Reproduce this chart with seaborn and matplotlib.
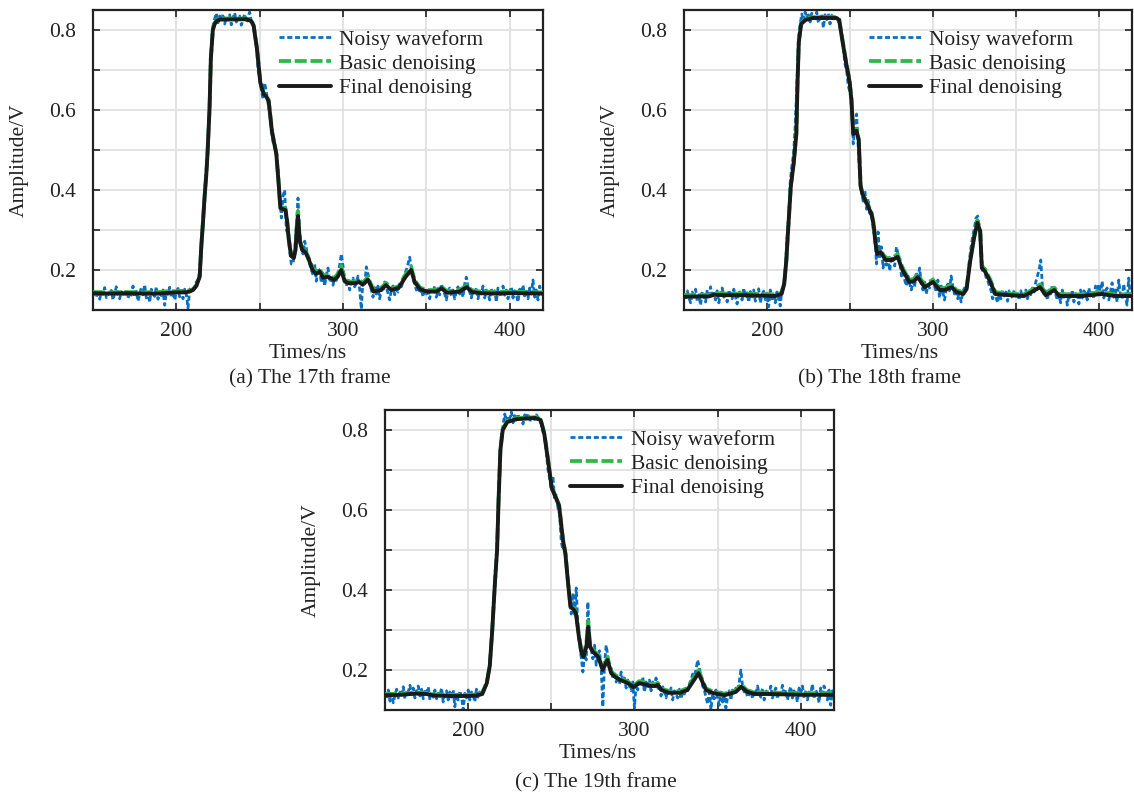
import numpy as np
import pandas as pd
import matplotlib
matplotlib.use("Agg")
import matplotlib.pyplot as plt
import seaborn as sns
from matplotlib.ticker import FixedLocator, FuncFormatter

# ---------------- data (mV values, ns times) ----------------
noisy_start = 150  # first sample time of noisy record, 1 ns sampling

noisy_a = [148, 138, 132, 150, 127, 145, 139, 156, 131, 143,
           135, 149, 125, 142, 158, 137, 128, 146, 140, 133,
           151, 129, 144, 137, 160, 132, 147, 122, 141, 155,
           138, 163, 130, 145, 119, 152, 140, 134, 158, 127,
           143, 136, 150, 112, 146, 139, 157, 131, 148, 125,
           144, 154, 133, 147, 128, 152, 139, 105, 150, 158,
           153, 158, 170, 175, 195, 262, 318, 392, 445, 515,
           640, 760, 810, 828, 842, 818, 835, 822, 840, 815,
           832, 825, 838, 813, 830, 843, 820, 828, 835, 812,
           826, 840, 818, 832, 845, 820, 815, 790, 765, 700,
           680, 650, 628, 668, 645, 618, 595, 555, 520, 510,
           490, 455, 390, 330, 385, 400, 300, 290, 245, 215,
           215, 245, 310, 380, 290, 265, 240, 272, 255, 228,
           215, 200, 188, 214, 172, 205, 198, 168, 192, 160,
           188, 205, 170, 186, 162, 180, 174, 192, 212, 240,
           210, 175, 160, 178, 150, 172, 180, 158, 166, 185,
           152, 102, 178, 160, 208, 190, 170, 150, 132, 156,
           140, 160, 128, 152, 145, 170, 158, 142, 125, 150,
           160, 138, 152, 145, 165, 158, 172, 190, 200, 215,
           232, 205, 178, 165, 150, 160, 142, 155, 133, 148,
           140, 155, 128, 150, 143, 160, 132, 147, 138, 165,
           152, 140, 125, 148, 155, 135, 150, 128, 145, 158,
           140, 150, 132, 165, 182, 158, 145, 130, 150, 138,
           155, 128, 147, 140, 160, 130, 150, 142, 125, 153,
           138, 148, 120, 155, 142, 133, 160, 137, 150, 128,
           145, 158, 130, 148, 138, 120, 152, 143, 162, 135,
           147, 128, 155, 140, 175, 132, 150, 125, 160, 142,
           138]

t_a = [150, 160, 170, 180, 190, 195, 200, 205, 208, 210,
       212, 214, 215, 216, 217, 218, 218.7, 219.9, 220.7, 221.9,
       223, 224.3, 226, 242, 245, 246.4, 248.4, 250.4, 252.4, 254,
       255.4, 257.4, 260, 261.4, 262.4, 264, 265.5, 266.5, 267.5, 268.9,
       270.5, 271.5, 272.3, 273, 273.6, 274.2, 275.5, 277.4, 279.6, 281.7,
       283.9, 286, 288.2, 290.3, 292.5, 294.6, 296.8, 298.9, 301, 303.2,
       307.5, 309.7, 311.8, 315, 318.3, 322.6, 325.8, 329, 333.3, 337.6,
       340.9, 343, 346.2, 350.5, 355.9, 359.1, 362.4, 369.9, 374.2, 377.4,
       382.8, 390, 400, 410, 420]
final_a = [142, 141, 142, 141, 141, 143, 144, 144, 146, 150,
           160, 183, 260, 320, 385, 440, 490, 600, 727, 800,
           815, 823, 826, 827, 822, 810, 752, 668, 640, 633,
           622, 545, 490, 415, 355, 352, 350, 320, 275, 235,
           230, 250, 300, 335, 300, 270, 250, 245, 225, 200,
           190, 196, 180, 183, 180, 175, 183, 200, 172, 167,
           167, 170, 163, 176, 146, 150, 162, 150, 155, 183,
           200, 170, 152, 146, 146, 154, 143, 146, 157, 145,
           142, 141, 142, 142, 141]
basic_a = [145, 144, 145, 144, 145, 147, 147, 148, 149, 152,
           162, 185, 262, 322, 387, 442, 492, 602, 729, 802,
           818, 826, 829, 829, 824, 812, 754, 670, 643, 636,
           625, 547, 492, 417, 358, 356, 354, 323, 278, 238,
           233, 256, 315, 348, 305, 274, 254, 249, 229, 205,
           196, 203, 185, 188, 184, 180, 190, 210, 177, 171,
           171, 175, 168, 183, 150, 154, 168, 154, 159, 190,
           208, 175, 156, 150, 150, 159, 147, 150, 162, 149,
           146, 145, 146, 145, 144]

noisy_b = [140, 125, 148, 130, 118, 145, 128, 152, 122, 138,
           112, 146, 135, 120, 150, 128, 158, 130, 142, 125,
           148, 118, 140, 155, 132, 145, 120, 150, 138, 128,
           152, 135, 115, 148, 140, 125, 155, 132, 143, 120,
           146, 130, 150, 122, 140, 153, 118, 138, 147, 126,
           142, 108, 150, 128, 137, 118, 145, 130, 110, 152,
           160, 200, 275, 330, 420, 460, 490, 560, 660, 780,
           815, 840, 822, 845, 830, 838, 820, 842, 835, 828,
           845, 818, 832, 840, 805, 838, 826, 842, 815, 836,
           840, 828, 835, 822, 810, 790, 755, 715, 700, 660,
           645, 610, 515, 560, 590, 505, 425, 395, 372, 398,
           352, 378, 335, 345, 300, 285, 215, 295, 228, 258,
           205, 240, 212, 230, 198, 235, 220, 210, 258, 240,
           225, 185, 205, 175, 160, 185, 165, 150, 172, 158,
           195, 175, 205, 165, 150, 170, 140, 162, 155, 180,
           178, 160, 145, 175, 130, 160, 145, 125, 150, 165,
           148, 185, 160, 140, 150, 128, 148, 120, 145, 155,
           150, 185, 225, 258, 285, 305, 330, 335, 305, 240,
           195, 205, 182, 175, 160, 150, 128, 145, 132, 118,
           140, 128, 150, 135, 145, 122, 148, 138, 130, 150,
           135, 142, 125, 148, 130, 140, 150, 128, 145, 138,
           155, 145, 170, 185, 200, 225, 160, 135, 148, 125,
           150, 140, 162, 155, 140, 125, 138, 118, 150, 132,
           145, 112, 140, 128, 150, 120, 138, 145, 115, 150,
           130, 148, 142, 125, 155, 135, 148, 128, 160, 140,
           165, 138, 172, 130, 148, 155, 125, 145, 168, 132,
           150, 120, 175, 140, 128, 165, 135, 112, 180, 130,
           140]

t_b = [150, 160, 165, 168, 175, 185, 195, 205, 208.8, 210.4,
       211.7, 212.6, 214.4, 216.2, 217.7, 218.4, 219.2, 220.6, 223.2, 227.7,
       242, 243.5, 245.4, 247.6, 249.8, 250.9, 252, 253.1, 254, 255.3,
       256.4, 257.5, 258.6, 260.8, 263, 264.4, 265.3, 266.4, 268.5, 271.5,
       275.6, 278.7, 281.7, 285.8, 288.5, 290.9, 295, 300, 304, 307,
       311.2, 314.2, 318.3, 320.3, 322.4, 324.8, 326.8, 328.5, 329.5, 331.5,
       334.6, 337.6, 342.7, 354.9, 359, 364.6, 368, 373.2, 376.2, 390,
       401.6, 410, 420]
final_b = [133, 134, 134, 138, 137, 137, 136, 135, 140, 165,
           225, 290, 410, 470, 540, 665, 770, 815, 825, 830,
           830, 825, 775, 720, 670, 625, 540, 545, 548, 525,
           410, 390, 380, 360, 340, 310, 270, 240, 245, 225,
           225, 233, 200, 170, 172, 182, 157, 170, 150, 150,
           157, 145, 140, 152, 220, 280, 318, 297, 205, 196,
           170, 140, 138, 135, 144, 157, 137, 150, 135, 135,
           140, 135, 135]
basic_b = [137, 138, 138, 142, 141, 141, 140, 139, 143, 167,
           227, 292, 412, 472, 542, 667, 772, 818, 828, 832,
           832, 827, 778, 723, 673, 628, 543, 549, 552, 528,
           413, 393, 384, 364, 344, 314, 274, 245, 250, 230,
           230, 240, 206, 175, 178, 190, 162, 176, 154, 155,
           163, 150, 144, 156, 224, 285, 325, 303, 210, 202,
           176, 145, 142, 139, 149, 164, 142, 156, 140, 139,
           145, 139, 139]

noisy_c = [145, 128, 150, 122, 140, 118, 138, 152, 130, 145,
           135, 158, 128, 150, 145, 162, 138, 155, 130, 148,
           160, 135, 152, 128, 147, 140, 158, 125, 145, 132,
           150, 128, 142, 135, 155, 120, 140, 148, 125, 145,
           132, 150, 108, 140, 125, 148, 135, 100, 142, 130,
           150, 125, 145, 138, 120, 152, 132, 145, 138, 150,
           155, 163, 190, 215, 262, 345, 410, 480, 590, 715,
           790, 812, 840, 822, 835, 828, 845, 818, 836, 825,
           840, 822, 832, 815, 838, 828, 842, 820, 835, 830,
           826, 838, 832, 822, 815, 795, 780, 745, 700, 680,
           650, 685, 625, 640, 605, 590, 520, 500, 510, 460,
           430, 375, 340, 392, 335, 405, 310, 265, 232, 195,
           240, 225, 370, 275, 252, 228, 262, 212, 238, 248,
           205, 108, 215, 262, 235, 198, 205, 178, 196, 170,
           185, 165, 195, 172, 180, 155, 175, 160, 148, 170,
           105, 165, 150, 178, 160, 182, 145, 170, 155, 175,
           148, 170, 158, 180, 150, 165, 135, 158, 145, 130,
           150, 138, 155, 125, 148, 140, 130, 152, 128, 145,
           140, 155, 148, 165, 175, 190, 185, 200, 225, 205,
           185, 160, 150, 132, 115, 145, 100, 140, 128, 150,
           130, 112, 145, 120, 140, 105, 132, 148, 125, 150,
           140, 155, 148, 170, 200, 160, 145, 150, 132, 140,
           148, 128, 150, 135, 160, 140, 132, 155, 125, 145,
           150, 138, 160, 130, 145, 155, 128, 148, 140, 162,
           135, 150, 125, 145, 158, 130, 148, 140, 120, 155,
           142, 160, 130, 150, 125, 145, 138, 165, 128, 150,
           140, 118, 155, 132, 160, 145, 125, 150, 112, 148,
           138]

t_c = [150, 160, 168, 175, 180, 190, 200, 205, 208.5, 211.2,
       213, 214.5, 216.1, 217.4, 218.3, 219.4, 220.8, 223.5, 229, 240.2,
       243.6, 245.8, 248, 250.3, 252.5, 254.7, 257, 258.5, 259.9, 261.5,
       263.7, 264.8, 266.6, 268.2, 269.3, 271.1, 272.2, 273.3, 274.9, 278.2,
       280.9, 283.8, 286, 288.3, 291.6, 296.1, 299.4, 302.8, 307.3, 309.5,
       312.8, 314, 316.2, 320.7, 327.4, 331.8, 335.2, 338.5, 340.8, 343,
       347.5, 354.2, 360.9, 364.2, 367.6, 372, 381, 400, 420]
final_c = [137, 138, 141, 140, 136, 135, 135, 136, 140, 167,
           210, 300, 417, 500, 625, 750, 800, 820, 827, 830,
           825, 790, 725, 654, 633, 610, 525, 490, 425, 358,
           350, 342, 283, 242, 233, 258, 308, 258, 246, 233,
           200, 225, 192, 183, 175, 167, 157, 167, 163, 160,
           160, 163, 150, 143, 143, 150, 171, 192, 171, 150,
           142, 137, 145, 158, 146, 140, 140, 138, 138]
basic_c = [140, 141, 144, 143, 139, 138, 138, 139, 143, 169,
           212, 302, 419, 502, 627, 752, 803, 823, 830, 832,
           827, 792, 727, 657, 636, 613, 528, 493, 428, 362,
           354, 346, 287, 246, 238, 268, 322, 265, 251, 238,
           205, 232, 197, 188, 180, 171, 161, 172, 168, 165,
           165, 168, 154, 147, 147, 155, 178, 200, 176, 154,
           146, 141, 149, 164, 150, 144, 144, 142, 142]

captions = ["(a) The 17th frame", "(b) The 18th frame", "(c) The 19th frame"]
legend_labels = ["Noisy waveform", "Basic denoising", "Final denoising"]
x_label = "Times/ns"
y_label = "Amplitude/V"

# ---------------- style ----------------
sns.set_theme(style="ticks")
plt.rcParams["font.family"] = ["Liberation Serif", "DejaVu Serif"]
FS = 15.5
FS_LEG = 15.5

C_NOISY = "#0a6fc2"
C_BASIC = "#2eb84a"
C_FINAL = "#1a1a1a"
C_TEXT = "#222222"

fig = plt.figure(figsize=(11.34, 7.96), dpi=100)
W, H = 1134.0, 796.0


def axes_px(left, top, right, bottom):
    return fig.add_axes([left / W, 1 - bottom / H, (right - left) / W, (bottom - top) / H])


panels = [
    dict(ax=axes_px(93, 10, 543, 310), noisy=noisy_a, t=t_a, final=final_a, basic=basic_a,
         xlab=(308, 354), cap=(310, 379), ylab_x=29),
    dict(ax=axes_px(684, 10, 1132, 310), noisy=noisy_b, t=t_b, final=final_b, basic=basic_b,
         xlab=(900, 354), cap=(879, 379), ylab_x=620),
    dict(ax=axes_px(385, 410, 834, 710), noisy=noisy_c, t=t_c, final=final_c, basic=basic_c,
         xlab=(598, 753), cap=(596, 783), ylab_x=321),
]

for i, p in enumerate(panels):
    ax = p["ax"]
    tn = noisy_start + np.arange(len(p["noisy"]))
    df_n = pd.DataFrame({"t": tn, "v": np.array(p["noisy"]) / 1000.0})
    df_b = pd.DataFrame({"t": p["t"], "v": np.array(p["basic"]) / 1000.0})
    df_f = pd.DataFrame({"t": p["t"], "v": np.array(p["final"]) / 1000.0})

    sns.lineplot(data=df_n, x="t", y="v", ax=ax, color=C_NOISY, lw=2.0,
                 linestyle=(0, (1.8, 1.0)), label=legend_labels[0],
                 estimator=None, sort=False, zorder=2)
    sns.lineplot(data=df_b, x="t", y="v", ax=ax, color=C_BASIC, lw=2.7,
                 linestyle=(0, (3.2, 1.0)), label=legend_labels[1],
                 estimator=None, sort=False, zorder=3)
    sns.lineplot(data=df_f, x="t", y="v", ax=ax, color=C_FINAL, lw=2.8,
                 linestyle="-", label=legend_labels[2],
                 estimator=None, sort=False, zorder=4)

    ax.set_xlim(150, 420)
    ax.set_ylim(0.1, 0.85)
    ax.xaxis.set_major_locator(FixedLocator([200, 300, 400]))
    ax.xaxis.set_minor_locator(FixedLocator([150, 250, 350]))
    ax.yaxis.set_major_locator(FixedLocator([0.2, 0.4, 0.6, 0.8]))
    ax.yaxis.set_minor_locator(FixedLocator([0.1, 0.3, 0.5, 0.7]))
    ax.yaxis.set_major_formatter(FuncFormatter(lambda v, _: f"{v:.1f}"))
    ax.grid(True, which="both", color="#dedede", lw=1.2, zorder=0)
    ax.set_axisbelow(True)
    ax.tick_params(which="both", direction="in", top=True, right=True,
                   length=5, width=1.2, color=C_TEXT, labelsize=FS, labelcolor=C_TEXT, pad=9)
    ax.tick_params(axis="y", pad=12)
    for s in ax.spines.values():
        s.set_linewidth(1.6)
        s.set_color(C_TEXT)
    ax.set_xlabel("")
    ax.set_ylabel(y_label, fontsize=FS, color=C_TEXT)
    l, b, w, h = ax.get_position().bounds
    ax.yaxis.set_label_coords((p["ylab_x"] / W - l) / w, 0.5)

    leg = ax.legend(loc="upper left", bbox_to_anchor=(0.413, 0.935), frameon=False,
                    fontsize=FS_LEG, handlelength=2.4, handletextpad=0.4,
                    labelspacing=0.2, borderaxespad=0, borderpad=0)
    for txt in leg.get_texts():
        txt.set_color(C_TEXT)

    fig.text(p["xlab"][0] / W, 1 - p["xlab"][1] / H, x_label, fontsize=FS,
             ha="center", va="center", color=C_TEXT)
    fig.text(p["cap"][0] / W, 1 - p["cap"][1] / H, captions[i], fontsize=FS,
             ha="center", va="center", color=C_TEXT)

fig.savefig("out.png", dpi=100)
